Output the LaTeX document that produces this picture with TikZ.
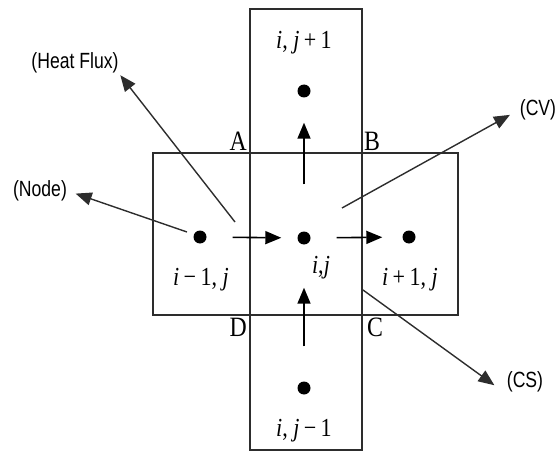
\documentclass[tikz,border=0pt]{standalone}
\usepackage{fontspec}
\setmainfont{Liberation Serif}[FakeStretch=0.85]
\newfontfamily\tagfont{Liberation Sans}[FakeStretch=0.8]
\usetikzlibrary{positioning,arrows.meta}
\definecolor{ink}{RGB}{45,45,45}

\begin{document}
\begin{tikzpicture}[
  x=1pt,y=-1pt,
  >={Triangle[length=16pt,width=13pt]},
  pt/.style={circle,fill=black,inner sep=0pt,minimum size=13pt},
  idx/.style={font=\fontsize{26}{28}\selectfont,inner sep=1pt},
  corner/.style={font=\fontsize{28}{30}\selectfont,inner sep=1pt},
  tag/.style={font=\tagfont\fontsize{22}{24}\selectfont,inner sep=1pt},
  cell/.style={draw=ink,line width=1.8pt},
  flux/.style={->,black,line width=1.6pt},
  pointer/.style={->,ink,line width=1.4pt},
]
\useasboundingbox (0,0) rectangle (560,452);
% ---- control volumes ----
\draw[cell] (250,9) rectangle (362,450);
\draw[cell] (153,153) rectangle (458,315);
\coordinate (A) at (250,153);
\coordinate (B) at (362,153);
\coordinate (C) at (362,315);
\coordinate (D) at (250,315);
\node[corner,above left=1pt and 2pt of A]  (Alab) {A};
\node[corner,above right=1pt and 1pt of B] (Blab) {B};
\node[corner,below right=2pt and 4pt of C] (Clab) {C};
\node[corner,below left=2pt and 2pt of D]  (Dlab) {D};
% ---- grid points ----
\node[pt] (P) at (304,238) {};
\node[pt] (W) at (200,237) {};
\node[pt] (E) at (409,237) {};
\node[pt] (N) at (304,91)  {};
\node[pt] (S) at (304,388) {};
\node[idx] (Plab) at (321,268) {\textit{i},\textit{j}};
\node[idx] (Wlab) at (201,280) {\textit{i}\,−\,1, \textit{j}};
\node[idx] (Elab) at (410,280) {\textit{i}\,+\,1, \textit{j}};
\node[idx] (Nlab) at (304,43)  {\textit{i}, \textit{j}\,+\,1};
\node[idx] (Slab) at (304,431) {\textit{i}, \textit{j}\,−\,1};
% heat flux between points
\draw[flux,shorten <=26pt,shorten >=16pt] (W) -- (P);
\draw[flux,shorten <=26pt,shorten >=20pt] (P) -- (E);
\draw[flux,shorten <=47pt,shorten >=25pt] (P) -- (N);
\draw[flux,shorten <=35pt,shorten >=43pt] (S) -- (P);
% ---- callouts ----
\node[tag] (fluxtag) at (75,63)   {(Heat Flux)};
\node[tag] (nodetag) at (40,191)  {(Node)};
\node[tag] (cvtag)   at (538,110) {(CV)};
\node[tag] (cstag)   at (525,382) {(CS)};
\coordinate (hfroot) at (235,222);
\coordinate (ndroot) at (187,232);
\coordinate (cvroot) at (342,208);
\coordinate (csroot) at (363,290);
\draw[pointer,shorten >=1pt]  (hfroot) -- (fluxtag.south east);
\draw[pointer,shorten >=8pt]  (ndroot) -- (nodetag.east);
\draw[pointer,shorten >=10pt] (cvroot) -- (cvtag.west);
\draw[pointer,shorten >=14pt] (csroot) -- (cstag.south west);
\end{tikzpicture}
\end{document}
